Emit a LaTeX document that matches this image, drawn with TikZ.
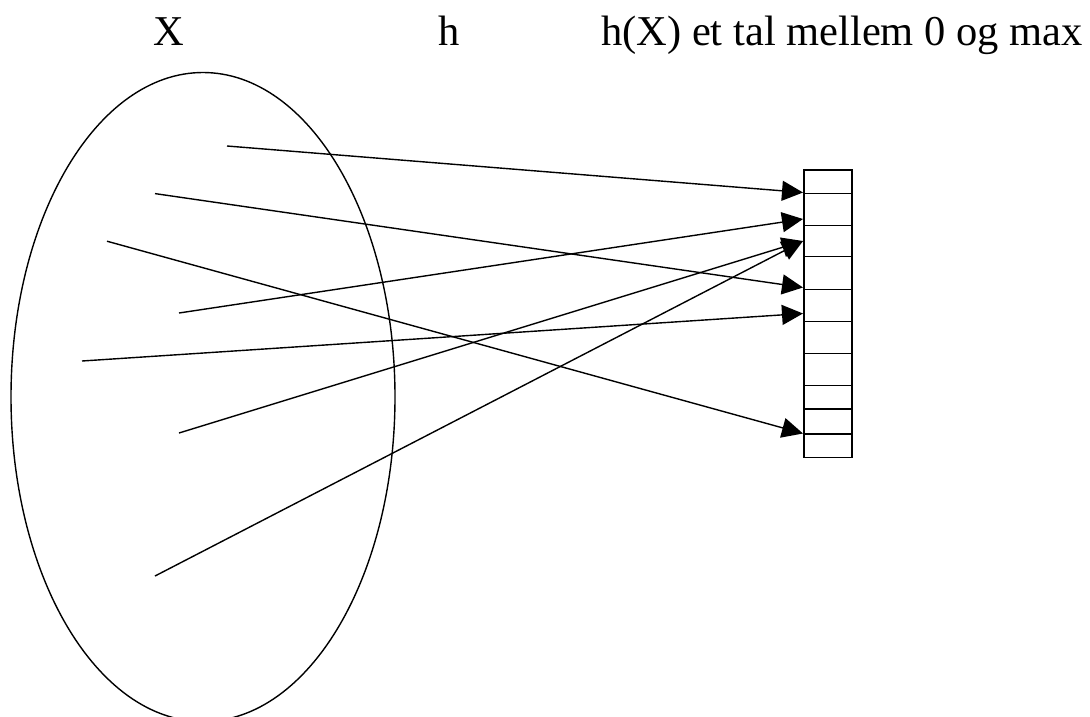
\documentclass[tikz,border=0pt]{standalone}
\usepackage{fontspec}
\setmainfont{Liberation Serif}
\usetikzlibrary{arrows.meta}
\begin{document}
\begin{tikzpicture}[x=1pt,y=-1pt,
  conn/.style={line width=1.4pt,-{Triangle[length=21pt,width=20pt]}},
  lbl/.style={font=\fontsize{42.5}{50}\selectfont,anchor=base,inner sep=0pt},
  cell/.style={line width=1.5pt}]
\useasboundingbox (0,0) rectangle (1090,716);
\begin{scope}
\clip (0,0) rectangle (1090,716);
\draw[line width=1.4pt] (203,397) ellipse [x radius=192, y radius=324.5];
\end{scope}
% labels
\node[lbl] (lx) at (169,45) {X};
\node[lbl] (lh) at (449,45) {h};
\node[lbl,anchor=base west] (lt) at (601,45) {h(X) et tal mellem 0 og max};
% table
\node[draw,cell,minimum width=48pt,minimum height=287.7pt,inner sep=0pt,anchor=north west] (tab) at (803,169) {};
\foreach \y in {193.3,225.7,256.7,289.3,321.7,353.3,385.7,409,434}
  \draw[cell] (803,\y) -- (851,\y);
% start points
\coordinate (s1) at (227,146);
\coordinate (s2) at (155,193.6);
\coordinate (s3) at (107,241.2);
\coordinate (s4) at (179,313);
\coordinate (s5) at (82,361);
\coordinate (s6) at (179,433);
\coordinate (s7) at (155,576);
% targets
\coordinate (t1) at (803,192.5);
\coordinate (t2) at (803,219);
\coordinate (t3) at (803,241);
\coordinate (t4) at (803,287.5);
\coordinate (t5) at (803,313.5);
\coordinate (t6) at (803,433.5);
\draw[conn] (s1) -- (t1);
\draw[conn] (s2) -- (t4);
\draw[conn] (s3) -- (t6);
\draw[conn] (s4) -- (t2);
\draw[conn] (s5) -- (t5);
\draw[conn] (s6) -- (t3);
\draw[conn] (s7) -- (t3);
\end{tikzpicture}
\end{document}
